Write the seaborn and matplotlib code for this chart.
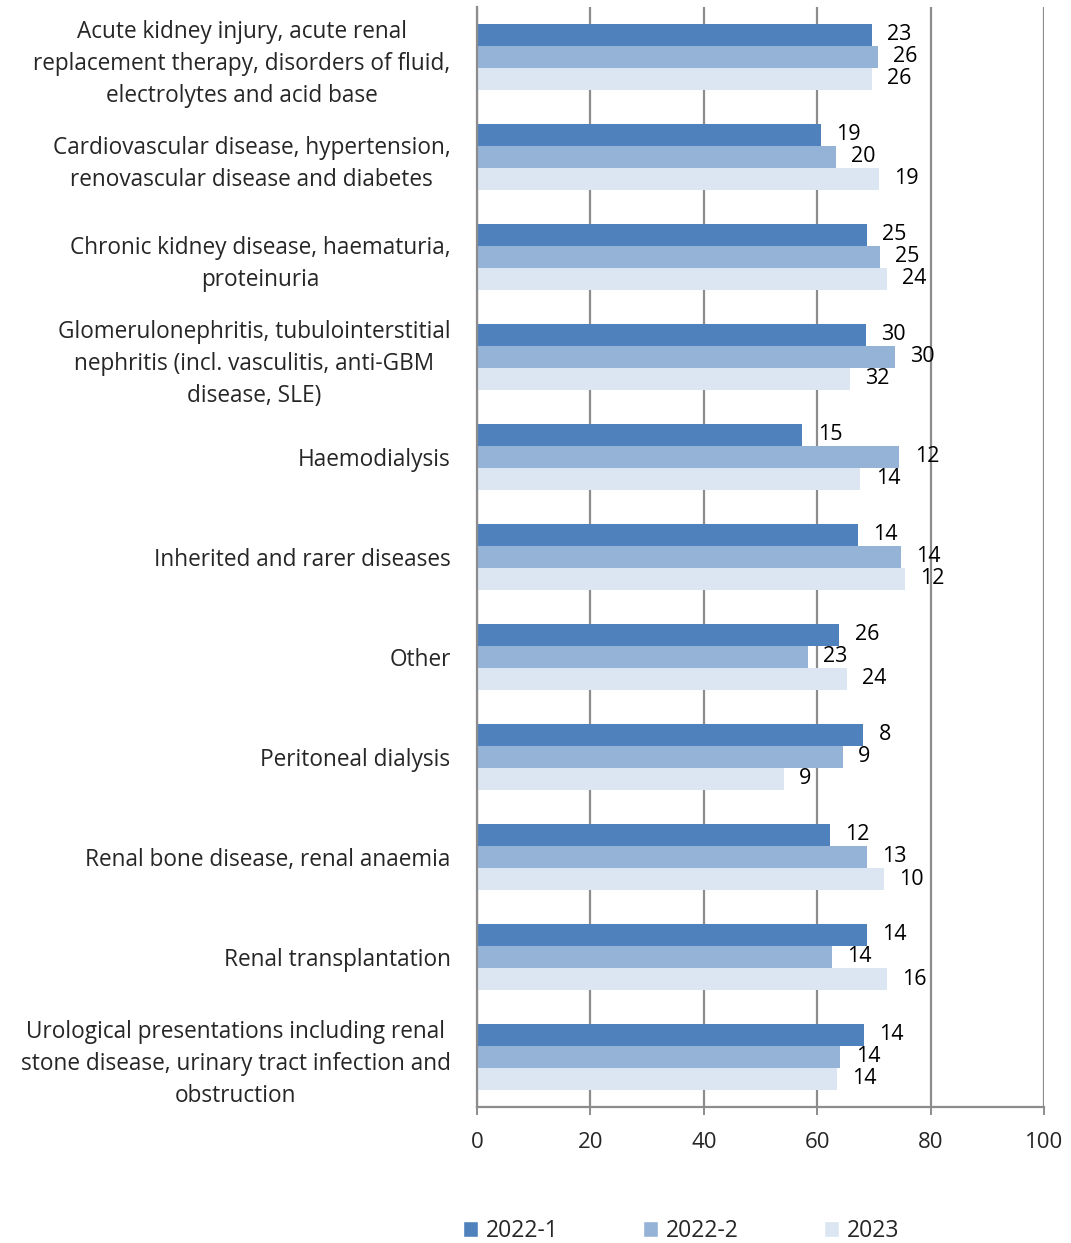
import matplotlib
matplotlib.use("Agg")
import matplotlib.pyplot as plt
import seaborn as sns
import pandas as pd
from matplotlib.patches import Patch

categories = [
    "Acute kidney injury, acute renal\nreplacement therapy, disorders of fluid,\nelectrolytes and acid base",
    "Cardiovascular disease, hypertension,\nrenovascular disease and diabetes",
    "Chronic kidney disease, haematuria,\nproteinuria",
    "Glomerulonephritis, tubulointerstitial\nnephritis (incl. vasculitis, anti-GBM\ndisease, SLE)",
    "Haemodialysis",
    "Inherited and rarer diseases",
    "Other",
    "Peritoneal dialysis",
    "Renal bone disease, renal anaemia",
    "Renal transplantation",
    "Urological presentations including renal\nstone disease, urinary tract infection and\nobstruction",
]
series_names = ["2022-1", "2022-2", "2023"]
values_2022_1 = [69.6, 60.7, 68.7, 68.6, 57.4, 67.2, 63.9, 68.1, 62.3, 68.7, 68.3]
values_2022_2 = [70.7, 63.3, 71.1, 73.7, 74.5, 74.8, 58.4, 64.5, 68.8, 62.6, 64.1]
values_2023 = [69.7, 70.9, 72.3, 65.8, 67.6, 75.4, 65.2, 54.1, 71.7, 72.3, 63.5]
counts_2022_1 = [23, 19, 25, 30, 15, 14, 26, 8, 12, 14, 14]
counts_2022_2 = [26, 20, 25, 30, 12, 14, 23, 9, 13, 14, 14]
counts_2023 = [26, 19, 24, 32, 14, 12, 24, 9, 10, 16, 14]
colors = ["#4F81BD", "#95B3D7", "#DCE6F2"]
x_ticks = [0, 20, 40, 60, 80, 100]

rows = []
for s, vals in zip(series_names, [values_2022_1, values_2022_2, values_2023]):
    for c, v in zip(categories, vals):
        rows.append({"category": c, "series": s, "value": v})
df = pd.DataFrame(rows)

sns.set_theme(style="white")
plt.rcParams["font.family"] = ["Open Sans", "DejaVu Sans"]

fig = plt.figure(figsize=(10.71, 12.43), dpi=100)
ax = fig.add_axes([477 / 1071, 1 - 1107 / 1243, (1044 - 477) / 1071, 1100 / 1243])

sns.barplot(data=df, y="category", x="value", hue="series", order=categories,
            hue_order=series_names, palette=colors, orient="h", width=0.66,
            saturation=1, errorbar=None, ax=ax, legend=False, linewidth=0)

for cont, cnts in zip(ax.containers, [counts_2022_1, counts_2022_2, counts_2023]):
    ax.bar_label(cont, labels=[str(c) for c in cnts], padding=11, fontsize=15.5,
                 color="black")

ax.set_xlim(0, 100)
ax.set_xticks(x_ticks)
ax.set_xticklabels([str(t) for t in x_ticks], fontsize=16)
ax.set_ylim(len(categories) - 0.5, -0.5)
ax.grid(axis="x", color="#8C8C8C", linewidth=1.6)
ax.set_axisbelow(True)
ax.set_xlabel("")
ax.set_ylabel("")
for side in ["top", "right"]:
    ax.spines[side].set_visible(False)
for side in ["left", "bottom"]:
    ax.spines[side].set_color("#8C8C8C")
    ax.spines[side].set_linewidth(1.6)
ax.tick_params(axis="x", which="major", bottom=True, length=6, width=1.4,
               color="#8C8C8C", pad=12)
ax.tick_params(axis="y", length=0, pad=19)
for lab in ax.get_yticklabels():
    lab.set_fontsize(16.3)
    lab.set_multialignment("center")
    lab.set_linespacing(1.45)

handles = [Patch(facecolor=c, label=s) for c, s in zip(colors, series_names)]
fig.legend(handles=handles, loc="center", bbox_to_anchor=(0.636, 1 - 1231 / 1243),
           ncol=3, frameon=False, fontsize=16.5, handlelength=0.65, handleheight=0.65,
           handletextpad=0.35, columnspacing=3.7)

fig.savefig("out.png", dpi=100)
